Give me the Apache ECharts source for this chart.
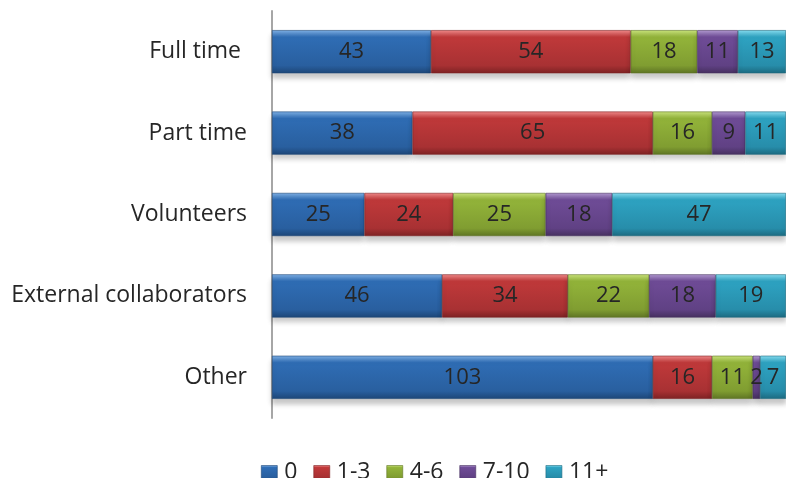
<!DOCTYPE html>
<html>
<head>
<meta charset="utf-8">
<title>Staff by group</title>
<script src="https://cdn.jsdelivr.net/npm/echarts@6/dist/echarts.min.js"></script>
<style>
  html, body { margin: 0; padding: 0; background: #ffffff; }
  #chart { width: 786px; height: 478px; }
</style>
</head>
<body>
<div id="chart"></div>
<script>
// Staff groups, top to bottom
const categories = ['Full time ', 'Part time', 'Volunteers', 'External collaborators', 'Other'];

// Bucket names for the legend
const bucketNames = ['0', '1-3', '4-6', '7-10', '11+'];

// Counts per bucket, one value per staff group
const bucket0    = [43, 38, 25, 46, 103];
const bucket1to3 = [54, 65, 24, 34, 16];
const bucket4to6 = [18, 16, 25, 22, 11];
const bucket7to10 = [11, 9, 18, 18, 2];
const bucket11p  = [13, 11, 47, 19, 7];

const bucketValues = [bucket0, bucket1to3, bucket4to6, bucket7to10, bucket11p];

// light top edge, main fill, dark bottom edge for a bevelled look
const palette = [
  { top: '#7fb0e4', mid: '#2f6db5', low: '#295f9f', edge: '#1d4677' },
  { top: '#ef8a8a', mid: '#c0393a', low: '#a83133', edge: '#7d2223' },
  { top: '#c9e27c', mid: '#93b43a', low: '#809d31', edge: '#5e7424' },
  { top: '#b29ad0', mid: '#6f4c97', low: '#604184', edge: '#46305f' },
  { top: '#86dcef', mid: '#2ea3c2', low: '#278daa', edge: '#1c6a80' }
];

function bevel(c) {
  return new echarts.graphic.LinearGradient(0, 0, 0, 1, [
    { offset: 0, color: c.top },
    { offset: 0.16, color: c.mid },
    { offset: 0.82, color: c.low },
    { offset: 1, color: c.edge }
  ]);
}

const chart = echarts.init(document.getElementById('chart'), null, { renderer: 'canvas' });

const FONT = '"Open Sans", sans-serif';

const series = bucketNames.map((name, i) => ({
  name: name,
  type: 'bar',
  stack: 'total',
  barCategoryGap: '47%',
  data: bucketValues[i],
  itemStyle: {
    color: bevel(palette[i]),
    borderColor: palette[i].edge,
    borderWidth: 0.6,
    shadowColor: 'rgba(0,0,0,0.22)',
    shadowBlur: 5,
    shadowOffsetY: 5
  },
  label: {
    show: true,
    position: 'inside',
    color: '#262626',
    fontFamily: FONT,
    fontSize: 22
  },
  emphasis: { disabled: true }
}));

chart.setOption({
  animation: false,
  backgroundColor: '#ffffff',
  grid: { left: 272, top: 11, width: 518, height: 407, containLabel: false },
  xAxis: {
    type: 'value',
    min: 0,
    max: 139,
    show: false
  },
  yAxis: {
    type: 'category',
    inverse: true,
    data: categories,
    axisLine: { show: true, lineStyle: { color: '#a6a6a6', width: 2 } },
    axisTick: { show: false },
    axisLabel: {
      color: '#262626',
      fontFamily: FONT,
      fontSize: 23,
      margin: 25
    }
  },
  legend: {
    data: bucketNames.map((n, i) => ({
      name: n,
      itemStyle: { color: bevel(palette[i]), borderColor: palette[i].edge, borderWidth: 0.6 }
    })),
    left: 256,
    top: 456,
    icon: 'rect',
    itemWidth: 16,
    itemHeight: 14,
    itemGap: 16,
    textStyle: { color: '#262626', fontFamily: FONT, fontSize: 23, padding: [0, 0, 0, 2] },
    selectedMode: false
  },
  series: series
});
</script>
</body>
</html>
